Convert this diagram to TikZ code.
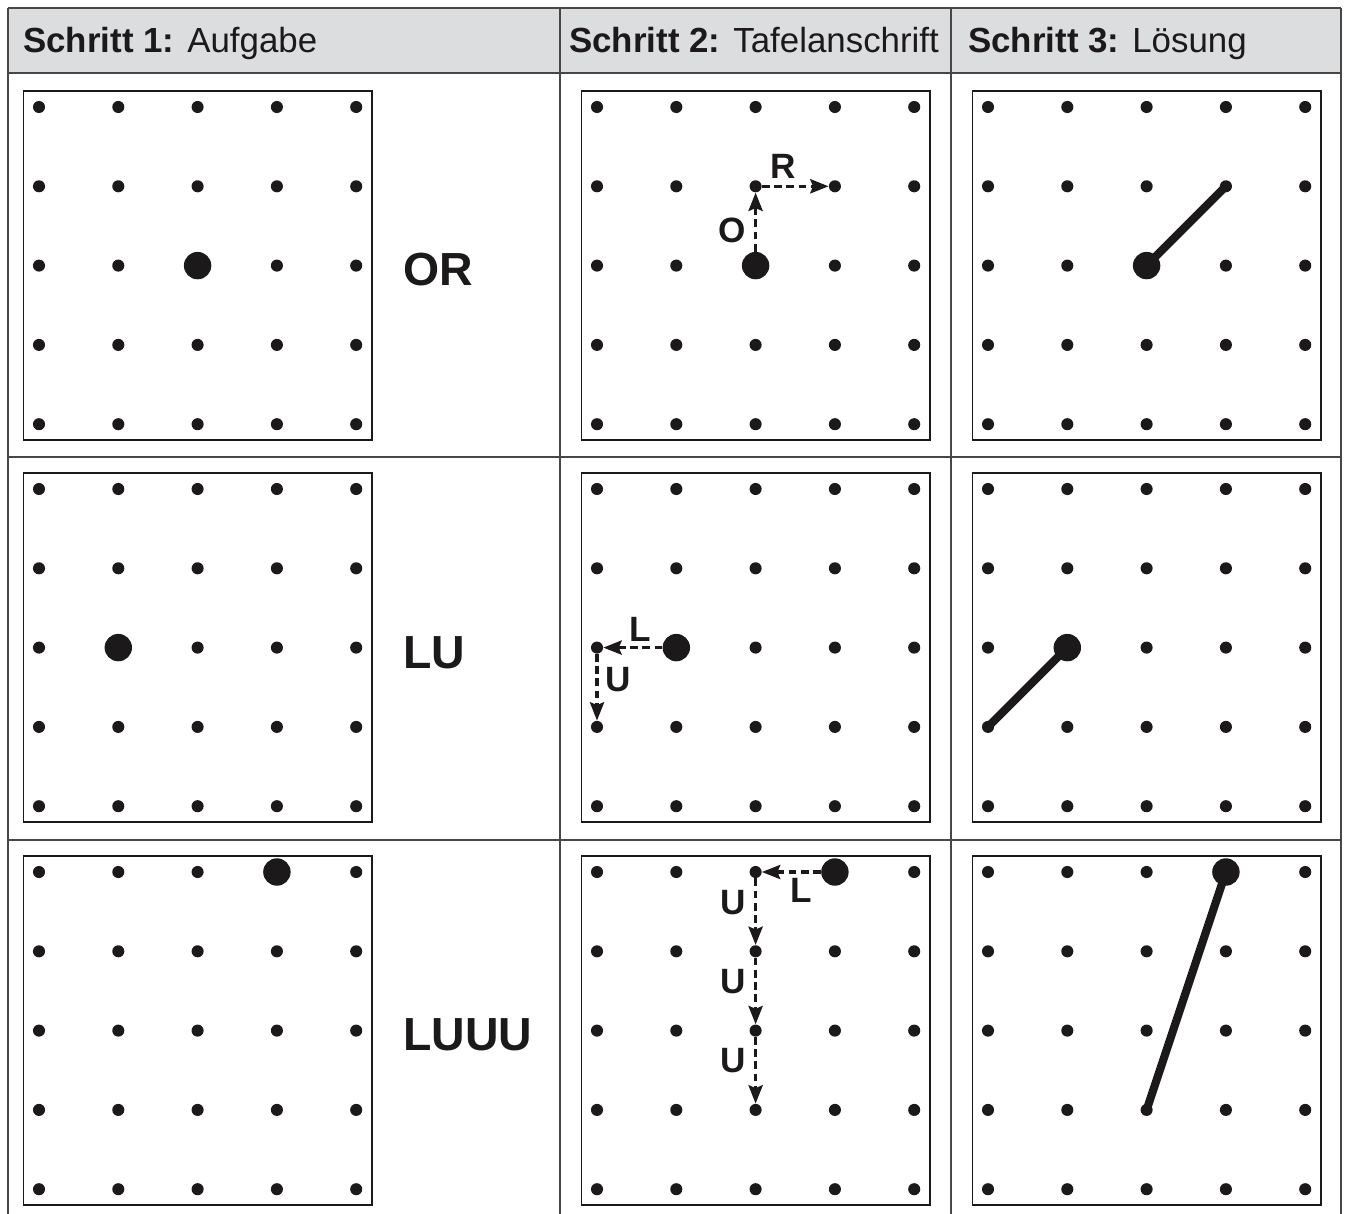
\documentclass[tikz,border=0pt]{standalone}
\usepackage{fontspec}
\setmainfont{Liberation Sans}
\usetikzlibrary{calc,arrows.meta,positioning}

\definecolor{headgray}{RGB}{220,221,223}
\definecolor{inkblack}{RGB}{28,25,26}

\begin{document}
\begin{tikzpicture}[x=0.025cm, y=-0.025cm,
    dot/.style={circle, fill=inkblack, inner sep=0pt, minimum size=8.6pt},
    bigdot/.style={circle, fill=inkblack, inner sep=0pt, minimum size=19.5pt},
    move_arrow/.style={-{Stealth[length=13pt, width=10pt, inset=2pt]},
      dash pattern=on 5.5pt off 3.2pt, line width=2.4pt, inkblack},
    sol_line/.style={line width=5.8pt, line cap=round, inkblack},
    grid_box/.style={draw=inkblack, line width=1.2pt},
    table_line/.style={draw=black!72, line width=1.4pt},
    head_text/.style={font=\fontsize{24.8}{29}\selectfont, anchor=base west,
      inner sep=0pt, text=inkblack},
    task_label/.style={font=\fontsize{33}{38}\selectfont\bfseries,
      anchor=base west, inner sep=0pt, text=inkblack},
    move_label/.style={font=\fontsize{25}{29}\selectfont\bfseries,
      inner sep=0pt, text=inkblack}
  ]
  \useasboundingbox (0,0) rectangle (1346,1214);

  % --- Table ---
  \fill[headgray] (8,8) rectangle (1341,73);
  \foreach \yy in {8,73,457,840}
    \draw[table_line] (8,\yy) -- (1341,\yy);
  \foreach \xx in {8,560,951,1341}
    \draw[table_line] (\xx,8) -- (\xx,1214);

  % --- Headers ---
  \node[head_text] (head-1) at (23,53) {\textbf{Schritt 1:} Aufgabe};
  \node[head_text] (head-2) at (569,53) {\textbf{Schritt 2:} Tafelanschrift};
  \node[head_text] (head-3) at (968,53) {\textbf{Schritt 3:} Lösung};

  % --- Dot grids ---
  \foreach \c/\xo in {1/39, 2/597, 3/988}
    \foreach \r/\yo in {1/107, 2/489, 3/872} {
      \draw[grid_box] (\xo-15.5,\yo-16) rectangle (\xo+333,\yo+333);
      \foreach \i in {0,...,4}
        \foreach \j in {0,...,4}
          \node[dot] (d-\c-\r-\i-\j) at (\xo+79.3*\i,\yo+79.3*\j) {};
    }

  % --- Start points ---
  \node[bigdot] (s-1-1) at (d-1-1-2-2) {};
  \node[bigdot] (s-2-1) at (d-2-1-2-2) {};
  \node[bigdot] (s-3-1) at (d-3-1-2-2) {};
  \node[bigdot] (s-1-2) at (d-1-2-1-2) {};
  \node[bigdot] (s-2-2) at (d-2-2-1-2) {};
  \node[bigdot] (s-3-2) at (d-3-2-1-2) {};
  \node[bigdot] (s-1-3) at (d-1-3-3-0) {};
  \node[bigdot] (s-2-3) at (d-2-3-3-0) {};
  \node[bigdot] (s-3-3) at (d-3-3-3-0) {};

  % --- Step 1: tasks ---
  \node[task_label] (task-1) at (403,286) {OR};
  \node[task_label] (task-2) at (403,668) {LU};
  \node[task_label] (task-3) at (403,1050) {LUUU};

  % --- Step 2: moves ---
  \draw[move_arrow] (s-2-1) -- (d-2-1-2-1);
  \draw[move_arrow] (d-2-1-2-1) -- (d-2-1-3-1);
  \node[move_label, left=7pt] at ($(s-2-1)!0.45!(d-2-1-2-1)$) {O};
  \node[move_label, above=5pt] at ($(d-2-1-2-1)!0.35!(d-2-1-3-1)$) {R};

  \draw[move_arrow] (s-2-2) -- (d-2-2-0-2);
  \draw[move_arrow] (d-2-2-0-2) -- (d-2-2-0-3);
  \node[move_label, above=4pt] at ($(s-2-2)!0.45!(d-2-2-0-2)$) {L};
  \node[move_label, right=6pt] at ($(d-2-2-0-2)!0.4!(d-2-2-0-3)$) {U};

  \draw[move_arrow] (s-2-3) -- (d-2-3-2-0);
  \draw[move_arrow] (d-2-3-2-0) -- (d-2-3-2-1);
  \draw[move_arrow] (d-2-3-2-1) -- (d-2-3-2-2);
  \draw[move_arrow] (d-2-3-2-2) -- (d-2-3-2-3);
  \node[move_label, below=4pt] at ($(s-2-3)!0.43!(d-2-3-2-0)$) {L};
  \node[move_label, left=7pt] at ($(d-2-3-2-0)!0.38!(d-2-3-2-1)$) {U};
  \node[move_label, left=7pt] at ($(d-2-3-2-1)!0.38!(d-2-3-2-2)$) {U};
  \node[move_label, left=7pt] at ($(d-2-3-2-2)!0.38!(d-2-3-2-3)$) {U};

  % --- Step 3: solutions ---
  \draw[sol_line] (s-3-1.center) -- (d-3-1-3-1.center);
  \draw[sol_line] (s-3-2.center) -- (d-3-2-0-3.center);
  \draw[sol_line] (s-3-3.center) -- (d-3-3-2-3.center);
\end{tikzpicture}
\end{document}
